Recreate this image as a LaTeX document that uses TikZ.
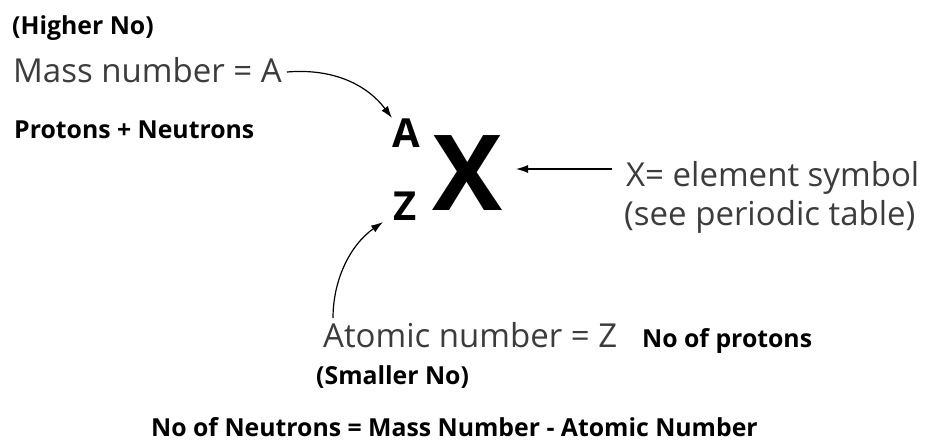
\documentclass[tikz,border=0pt]{standalone}
\usepackage{fontspec}
\setmainfont{Open Sans}
\usetikzlibrary{arrows.meta}
\definecolor{txtgray}{HTML}{3C3C3C}
\begin{document}
\begin{tikzpicture}[x=1pt,y=-1pt,
  boldlbl/.style={anchor=base west,inner sep=0pt,font=\fontsize{24.8}{28}\selectfont\bfseries},
  thinlbl/.style={anchor=base west,inner sep=0pt,text=txtgray,font=\fontsize{33}{38}\selectfont},
  isolbl/.style={anchor=base west,inner sep=0pt,font=\fontsize{40}{46}\selectfont\bfseries},
  conn/.style={draw=black,line width=1.2pt,-{Latex[length=12pt,width=8pt]}}]
\useasboundingbox[fill=white] (0,0) rectangle (926,444);
\node[boldlbl] (higher) at (12,35) {(Higher No)};
\node[thinlbl] (mass) at (13,82) {Mass number = A};
\node[boldlbl] (pn) at (14,138) {Protons + Neutrons};
\node[isolbl] (A) at (392,147) {A};
\node[isolbl] (Z) at (393,220) {Z};
\node[anchor=base west,inner sep=0pt,font=\fontsize{105}{115}\selectfont\bfseries] (X) at (432,210) {X};
\node[thinlbl] (elem) at (626,186) {X= element symbol};
\node[thinlbl] (periodic) at (624,225) {(see periodic table)};
\node[thinlbl] (atomic) at (323,347) {Atomic number = Z};
\node[boldlbl] (protons) at (642,347) {No of protons};
\node[boldlbl] (smaller) at (316,384) {(Smaller No)};
\node[boldlbl] (neutrons) at (151,436) {No of Neutrons = Mass Number - Atomic Number};
\coordinate (m1) at (287,72);
\coordinate (m2) at (392,118);
\draw[conn] (m1) .. controls (335,68) and (368,86) .. (m2);
\coordinate (e1) at (612,169);
\coordinate (e2) at (516,169);
\draw[conn] (e1) -- (e2);
\coordinate (z1) at (333,318);
\coordinate (z2) at (383,222);
\draw[conn] (z1) .. controls (333,280) and (350,245) .. (z2);
\end{tikzpicture}
\end{document}
